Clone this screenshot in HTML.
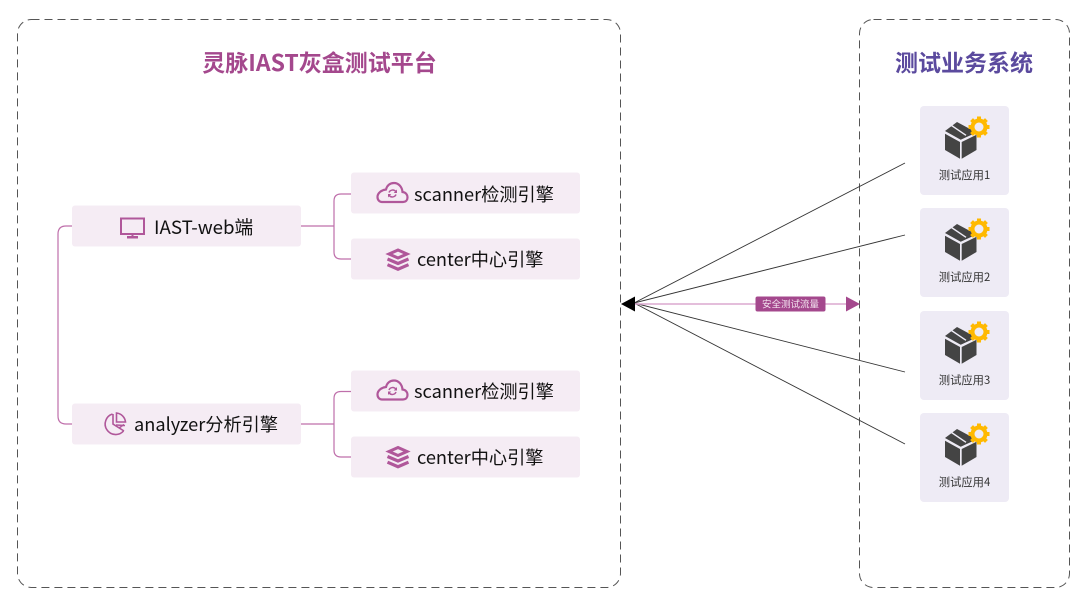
<!DOCTYPE html>
<html><head><meta charset="utf-8">
<style>
html,body{margin:0;padding:0;background:#fff;width:1080px;height:607px;overflow:hidden}
svg{display:block}
text{font-family:"Noto Sans CJK SC","Noto Sans CJK JP",sans-serif}
</style></head><body>
<svg width="1080" height="607" viewBox="0 0 1080 607" xmlns="http://www.w3.org/2000/svg">
<defs>
<g id="cloud" fill="none" stroke="#b0579a" stroke-width="2.200">
<path d="M-10.500 9H10.500C13.500 9 15 7 15 4.500C15 1.500 13 -.8 10 -1C9.500 -6.300 6 -10 1.500 -10C-2.500 -10 -5.500 -7.500 -6.500 -3.500C-11 -3 -15 0 -15 4C-15 7 -13 9 -10.500 9Z"/>
<path d="M-3.500 -.5A4 4 0 0 1 3.300 -1.500M3.500 1.500A4 4 0 0 1 -3.300 2.500" stroke-width="1.500"/>
<path d="M4.500 -3.500V0H1.200ZM-4.500 4.500V1H-1.200Z" fill="#b0579a" stroke="none"/>
</g>
<g id="stack" fill="none" stroke="#b0579a">
<path d="M0 -9.500 9 -5.500 0 -1.500 -9 -5.500Z" stroke-width="3"/>
<path d="M-10.500 -.5 0 4 10.500 -.5" stroke-width="3.200"/>
<path d="M-10.500 5.200 0 9.700 10.500 5.200" stroke-width="3.200"/>
</g>
<g id="app">
<path d="M-16 -9 -4 -18 15.500 -7.500 -.3 -.3Z" fill="#444"/>
<path d="M-9.500 -14.500 5 -4.700" stroke="#eeebf5" stroke-width="1.400" fill="none"/>
<path d="M-16 -6.300 -1 2V18.700L-16 10Z" fill="#444"/>
<path d="M.7 2 15.500 -5.300V10L.7 18.700Z" fill="#444"/>
<g transform="translate(18 -13)">
<circle r="6.500" fill="none" stroke="#ffb900" stroke-width="4"/>
<path d="M-2 -10.500h4v3h-4zM-2 7.500h4v3h-4zM-10.500 -2h3v4h-3zM7.500 -2h3v4h-3z" fill="#ffb900"/>
<path d="M-2 -10.500h4v3h-4zM-2 7.500h4v3h-4z" fill="#ffb900" transform="rotate(45)"/>
<path d="M-2 -10.500h4v3h-4zM-2 7.500h4v3h-4z" fill="#ffb900" transform="rotate(-45)"/>
</g>
</g>
</defs>

<rect x="17.500" y="19.500" width="603" height="568" rx="14" fill="none" stroke="#555" stroke-width="1" stroke-dasharray="8 5"/>
<rect x="859.500" y="19.500" width="210" height="568" rx="14" fill="none" stroke="#555" stroke-width="1" stroke-dasharray="8 5"/>

<text x="319.500" y="71" text-anchor="middle" font-size="23" font-weight="700" fill="#a4488d">灵脉IAST灰盒测试平台</text>
<text x="964" y="71" text-anchor="middle" font-size="23" font-weight="700" fill="#5b4a9e">测试业务系统</text>

<g fill="none" stroke="#bf6fab" stroke-width="1.200">
<path d="M72 226H66q-8 0-8 8V416q0 8 8 8H72"/>
<path d="M301 226H334M351 194H341q-7 0-7 7V252q0 7 7 7H351"/>
<path d="M301 424H334M351 391.500H341q-7 0-7 7V450q0 7 7 7H351"/>
</g>

<g fill="#f5ecf4">
<rect x="72" y="205.500" width="229" height="41" rx="3"/>
<rect x="72" y="403.500" width="229" height="41" rx="3"/>
<rect x="351" y="172.500" width="229" height="41" rx="3"/>
<rect x="351" y="238.500" width="229" height="41" rx="3"/>
<rect x="351" y="370.500" width="229" height="41" rx="3"/>
<rect x="351" y="436.500" width="229" height="41" rx="3"/>
</g>

<g fill="none" stroke="#b0579a" stroke-width="2">
<rect x="121" y="218.500" width="23" height="15.500"/>
<path d="M132.500 234v3" />
</g>
<rect x="127" y="236" width="11" height="2.500" fill="#b0579a"/>
<g fill="none" stroke="#b0579a" stroke-width="1.600">
<path d="M112.500 414A10.500 10.500 0 1 0 123.500 431"/>
<path d="M113 414V424L124 431"/>
<path d="M116.500 413A10 10 0 0 1 125.500 422H116.500Z"/>
<path d="M116 425L125 425.500M119 428 124 424.500"/>
</g>
<use href="#cloud" x="392.500" y="193"/>
<use href="#stack" x="398" y="259.500"/>
<use href="#cloud" x="392.500" y="390.500"/>
<use href="#stack" x="398" y="457"/>

<g font-size="18.200" fill="#111">
<text x="154" y="234" font-size="18.700">IAST-web端</text>
<text x="134" y="431">analyzer分析引擎</text>
<text x="414" y="201">scanner检测引擎</text>
<text x="417" y="266">center中心引擎</text>
<text x="414" y="398">scanner检测引擎</text>
<text x="417" y="464">center中心引擎</text>
</g>

<g stroke="#333" stroke-width=".9" fill="none">
<path d="M634 303 905 163M634 303 905 235M634 303 905 372M634 303 905 444"/>
</g>
<path d="M634 304H847" stroke="#dba8cf" stroke-width="1.500"/>
<path d="M621 304 635 296.500V311.500z" fill="#000"/>
<path d="M846 296.500 860 304 846 311.500z" fill="#a4488d"/>
<rect x="755.500" y="296.500" width="70" height="15" rx="2" fill="#a4488d"/>
<text x="790.500" y="307.500" text-anchor="middle" font-size="9.500" fill="#f3e3ef">安全测试流量</text>

<g fill="#eeebf5">
<rect x="920" y="106" width="89" height="89" rx="4"/>
<rect x="920" y="208" width="89" height="89" rx="4"/>
<rect x="920" y="311" width="89" height="89" rx="4"/>
<rect x="920" y="413" width="89" height="89" rx="4"/>
</g>
<use href="#app" x="961" y="140"/>
<use href="#app" x="961" y="242"/>
<use href="#app" x="961" y="345"/>
<use href="#app" x="961" y="447"/>
<g font-size="11.300" fill="#333" text-anchor="middle">
<text x="964.500" y="179">测试应用1</text>
<text x="964.500" y="281">测试应用2</text>
<text x="964.500" y="384">测试应用3</text>
<text x="964.500" y="486">测试应用4</text>
</g>
</svg>
</body></html>
